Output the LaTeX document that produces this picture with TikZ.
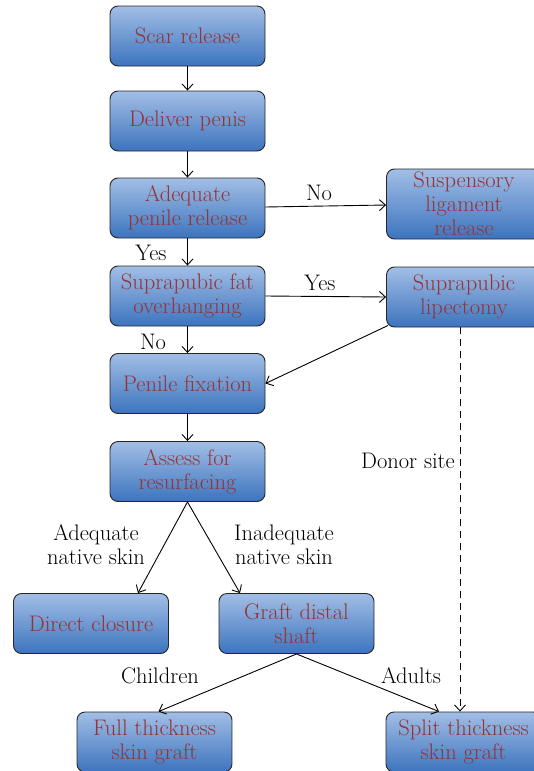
\documentclass[tikz,border=0pt]{standalone}
\usetikzlibrary{arrows.meta,calc}
\definecolor{txtred}{RGB}{150,50,50}
\definecolor{boxtop}{RGB}{162,190,230}
\definecolor{boxbot}{RGB}{60,116,190}
\tikzset{
  box/.style={rounded corners=8pt, draw=black!85, line width=0.9pt,
    top color=boxtop, bottom color=boxbot, minimum width=155pt,
    minimum height=60pt, align=center, inner sep=0pt, text=txtred,
    font=\fontsize{22.5}{24}\selectfont},
  lbl/.style={align=center, inner sep=0pt, text=black,
    font=\fontsize{22.5}{24}\selectfont},
  conn/.style={line width=0.9pt, -{Straight Barb[length=6pt,width=11pt]}},
}
\begin{document}
\begin{tikzpicture}[x=1pt,y={(0pt,-1pt)}]
\useasboundingbox (0,0) rectangle (534,771);
\clip (0,0) rectangle (534,771);
\node[box] (scar) at (187.5,36) {Scar release};
\node[box] (deliver) at (187.5,121) {Deliver penis};
\node[box] (adeq) at (187.5,208) {Adequate\\penile release};
\node[box] (fat) at (187.5,296) {Suprapubic fat\\overhanging};
\node[box] (fix) at (187.5,383.5) {Penile fixation};
\node[box] (assess) at (187.5,471.5) {Assess for\\resurfacing};
\node[box] (direct) at (91,623.5) {Direct closure};
\node[box] (graft) at (296.5,623.5) {Graft distal\\shaft};
\node[box] (full) at (154.5,742) {Full thickness\\skin graft};
\node[box] (split) at (463.5,742) {Split thickness\\skin graft};
\node[box, minimum height=70pt] (susp) at (464,204) {Suspensory\\ligament\\release};
\node[box] (lipo) at (464,297) {Suprapubic\\lipectomy};

\draw[conn] (scar) -- (deliver);
\draw[conn] (deliver) -- (adeq);
\draw[conn] (adeq) -- (fat);
\draw[conn] ([yshift=1pt]adeq.east) -- ([yshift=-1pt]susp.west);
\draw[conn] (fat) -- (fix);
\draw[conn] (fat.east) -- (lipo.west);
\draw[conn] ($(lipo.south west)+(2,-2)$) -- (fix.east);
\draw[conn] (fix) -- (assess);
\draw[conn] (assess.south) -- ([xshift=47pt]direct.north);
\draw[conn] (assess.south) -- ([xshift=-56.5pt]graft.north);
\draw[conn] (graft.south) -- ([xshift=4pt]full.north);
\draw[conn] (graft.south) -- ([xshift=-24.5pt]split.north);
\draw[conn, dash pattern=on 7pt off 5pt] ([xshift=-4pt]lipo.south) -- ([xshift=-3.5pt]split.north);

\node[lbl] (lno1) at (319,193) {No};
\node[lbl] (lyes1) at (151,253) {Yes};
\node[lbl] (lyes2) at (320,283) {Yes};
\node[lbl] (lno2) at (153,342) {No};
\node[lbl, anchor=east] (ldonor) at (455,461) {Donor site};
\node[lbl] (ladeq) at (96,545) {Adequate\\native skin};
\node[lbl] (linadeq) at (284,545) {Inadequate\\native skin};
\node[lbl] (lchild) at (160,676) {Children};
\node[lbl] (ladult) at (411,676) {Adults};
\end{tikzpicture}
\end{document}
